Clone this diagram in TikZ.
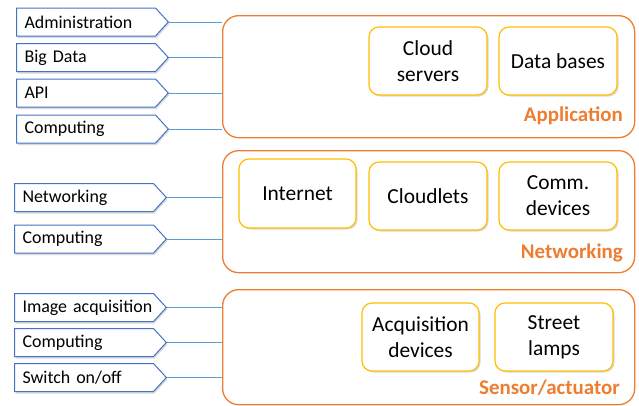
\documentclass[tikz,border=0pt]{standalone}
\usepackage{fontspec}
\setmainfont{Carlito}
\usepackage{xcolor}
\usetikzlibrary{shapes.symbols,shadows}

\definecolor{layerorange}{HTML}{ED7D31}
\definecolor{unitgold}{HTML}{FFC000}
\definecolor{tagblue}{HTML}{4472C4}
\definecolor{linkblue}{HTML}{5B9BD5}

\begin{document}
\begin{tikzpicture}[
  x=1bp, y=-1bp,
  layer/.style={
    draw=layerorange,
    line width=1.3bp,
    rounded corners=16bp,
    minimum width=412bp,
    anchor=north west
  },
  layername/.style={
    text=layerorange,
    anchor=east,
    inner sep=0pt,
    font=\fontsize{21}{23}\selectfont\bfseries
  },
  unit/.style={
    draw=unitgold,
    fill=white,
    line width=1.2bp,
    rounded corners=10bp,
    minimum width=118bp,
    minimum height=68bp,
    align=center,
    font=\fontsize{21.5}{26}\selectfont,
    drop shadow={shadow xshift=1.5bp, shadow yshift=-1.5bp, opacity=0.3}
  },
  tag/.style={
    signal,
    signal to=east,
    signal pointer angle=95,
    draw=tagblue,
    fill=white,
    line width=1bp,
    minimum height=28bp,
    inner xsep=8bp,
    text width=123bp,
    align=left,
    anchor=west,
    font=\fontsize{18}{20}\selectfont,
    drop shadow={shadow xshift=1bp, shadow yshift=-2bp, opacity=0.3}
  },
  link/.style={
    draw=linkblue,
    line width=1bp
  }
]
  \useasboundingbox (0,0) rectangle (639,405);

  % application layer
  \node[layer, minimum height=122bp] (app) at (222,15) {};
  \node[unit] (cloud) at (428,61) {Cloud\\servers};
  \node[unit] (db) at (558,61) {Data bases};
  \node[layername] (appname) at (623,116) {Application};

  % networking layer
  \node[layer, minimum height=122bp] (net) at (222,150) {};
  \node[unit, minimum width=117bp, minimum height=69bp] (inet) at (297.5,193.5) {Internet};
  \node[unit] (cloudlets) at (428,196) {Cloudlets};
  \node[unit] (comm) at (558,196) {Comm.\\devices};
  \node[layername] (netname) at (623,253) {Networking};

  % sensor/actuator layer
  \node[layer, minimum height=115bp] (sens) at (222,289) {};
  \node[unit, minimum width=117bp] (acq) at (420.5,337) {Acquisition\\devices};
  \node[unit] (lamps) at (554,337) {Street\\lamps};
  \node[layername] (sensname) at (620,388) {Sensor/actuator};

  % tags on the left
  \node[tag] (admin) at (16,22) {Administration};
  \node[tag] (bigdata) at (16,57.5) {Big Data};
  \node[tag] (api) at (16,93) {API};
  \node[tag] (appcomp) at (16,129) {Computing};

  \node[tag] (netw) at (14,197.5) {Networking};
  \node[tag] (netcomp) at (14,239) {Computing};

  \node[tag] (image) at (14,307.5) {\mbox{Image acquisition}};
  \node[tag] (senscomp) at (14,342.5) {Computing};
  \node[tag] (switch) at (14,377.5) {Switch on/off};

  % links to the layers
  \foreach \t in {admin,bigdata,api,appcomp}
    \draw[link] (\t.east) -- (\t.east -| app.west);
  \foreach \t in {netw,netcomp}
    \draw[link] (\t.east) -- (\t.east -| net.west);
  \foreach \t in {image,senscomp,switch}
    \draw[link] (\t.east) -- (\t.east -| sens.west);
\end{tikzpicture}
\end{document}
